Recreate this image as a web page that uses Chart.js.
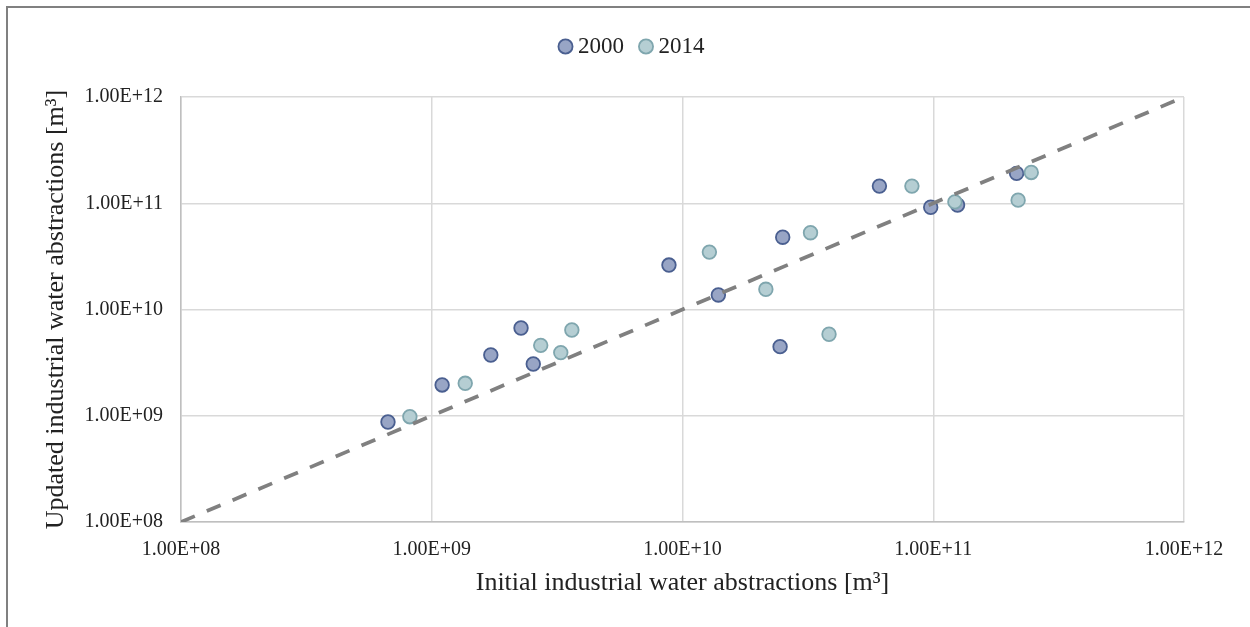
<!DOCTYPE html>
<html>
<head>
<meta charset="utf-8">
<script src="https://cdn.jsdelivr.net/npm/chart.js@4.4.0/dist/chart.umd.min.js"></script>
<style>
html,body{margin:0;padding:0;background:#fff;}
#wrap{width:1250px;height:627px;position:relative;}
</style>
</head>
<body>
<div id="wrap"><canvas id="c" width="1250" height="627"></canvas></div>
<script>
const seriesNames = ["2000", "2014"];
const initial2000 = [6.69e8, 1.10e9, 1.72e9, 2.27e9, 2.54e9, 8.83e9, 1.39e10, 2.51e10, 2.45e10, 6.1e10, 9.77e10, 1.25e11, 2.15e11];
const updated2000 = [8.73e8, 1.95e9, 3.73e9, 6.7e9, 3.07e9, 2.62e10, 1.37e10, 4.79e10, 4.47e9, 1.45e11, 9.17e10, 9.63e10, 1.91e11];
const initial2014 = [8.18e8, 1.36e9, 2.72e9, 3.27e9, 3.62e9, 1.28e10, 2.15e10, 3.24e10, 3.84e10, 8.22e10, 1.22e11, 2.18e11, 2.46e11];
const updated2014 = [9.8e8, 2.02e9, 4.6e9, 3.93e9, 6.41e9, 3.47e10, 1.55e10, 5.28e10, 5.85e9, 1.45e11, 1.03e11, 1.07e11, 1.95e11];
const lineX = [1e8, 1e12];
const lineY = [1e8, 1e12];
const tickValues = [1e8, 1e9, 1e10, 1e11, 1e12];

const toPts = (xs, ys) => xs.map((x, i) => ({x: x, y: ys[i]}));
const FONT = "'Liberation Serif', 'Times New Roman', serif";
const fmt = v => {
  const e = Math.round(Math.log10(v));
  const m = v / Math.pow(10, e);
  return m.toFixed(2) + 'E' + (e < 0 ? '-' : '+') + String(Math.abs(e)).padStart(2, '0');
};

const PAD_TOP = 14;
const CHART_TOP = 97;

const legendSpace = {
  id: 'legendSpace',
  beforeInit(chart) {
    const lg = chart.legend;
    if (!lg) return;
    const orig = lg.fit;
    lg.fit = function () {
      orig.bind(lg)();
      lg.height = CHART_TOP - PAD_TOP;
    };
  },
  afterLayout(chart) {
    const lg = chart.legend;
    if (!lg) return;
    lg.left = 85;
    lg.right = 1184;
  }
};

const borderPlugin = {
  id: 'outerBorder',
  afterDraw(chart) {
    const ctx = chart.ctx;
    ctx.save();
    ctx.strokeStyle = '#808080';
    ctx.lineWidth = 2;
    ctx.beginPath();
    ctx.moveTo(7, 627);
    ctx.lineTo(7, 7);
    ctx.lineTo(1250, 7);
    ctx.stroke();
    ctx.restore();
  }
};

new Chart(document.getElementById('c'), {
  type: 'scatter',
  data: {
    datasets: [
      {
        type: 'line',
        label: 'fit',
        data: toPts(lineX, lineY),
        borderColor: '#808080',
        borderWidth: 3.75,
        borderDash: [15, 13],
        pointRadius: 0,
        fill: false,
        order: 0
      },
      {
        label: seriesNames[0],
        data: toPts(initial2000, updated2000),
        backgroundColor: '#98a5c5',
        borderColor: '#4a5f90',
        borderWidth: 1.8,
        pointRadius: 6.8,
        order: 2
      },
      {
        label: seriesNames[1],
        data: toPts(initial2014, updated2014),
        backgroundColor: '#b5ced3',
        borderColor: '#7fa6ae',
        borderWidth: 1.8,
        pointRadius: 6.8,
        order: 1
      }
    ]
  },
  options: {
    responsive: false,
    animation: false,
    layout: {padding: {left: 30, right: 66, top: PAD_TOP, bottom: 28}},
    plugins: {
      legend: {
        position: 'top',
        labels: {
          filter: item => item.text !== 'fit',
          sort: (a, b) => a.datasetIndex - b.datasetIndex,
          usePointStyle: true,
          pointStyle: 'circle',
          boxWidth: 2,
          boxHeight: 10,
          padding: 21,
          color: '#222',
          font: {family: FONT, size: 23}
        }
      },
      tooltip: {enabled: false}
    },
    scales: {
      x: {
        type: 'logarithmic',
        min: 1e8, max: 1e12,
        afterBuildTicks: s => { s.ticks = tickValues.map(v => ({value: v})); },
        afterFit: s => { s.height = 627 - 522 - 28; },
        grid: {color: '#d9d9d9', lineWidth: 1.5, drawTicks: false},
        border: {color: '#bfbfbf', width: 1.5},
        ticks: {
          callback: v => fmt(v),
          color: '#222',
          font: {family: FONT, size: 20},
          padding: 16,
          maxRotation: 0,
          autoSkip: false
        },
        title: {
          display: true,
          text: 'Initial industrial water abstractions [m³]',
          color: '#222',
          font: {family: FONT, size: 26},
          padding: {top: 4, bottom: 0}
        }
      },
      y: {
        type: 'logarithmic',
        min: 1e8, max: 1e12,
        afterBuildTicks: s => { s.ticks = tickValues.map(v => ({value: v})); },
        afterFit: s => { s.width = 181 - 30; },
        grid: {color: '#d9d9d9', lineWidth: 1.5, drawTicks: false},
        border: {color: '#bfbfbf', width: 1.5},
        ticks: {
          callback: v => fmt(v),
          color: '#222',
          font: {family: FONT, size: 20},
          padding: 18,
          autoSkip: false
        },
        title: {
          display: true,
          text: 'Updated industrial water abstractions [m³]',
          color: '#222',
          font: {family: FONT, size: 26},
          padding: {top: 11, bottom: 4}
        }
      }
    }
  },
  plugins: [legendSpace, borderPlugin]
});
</script>
</body>
</html>
